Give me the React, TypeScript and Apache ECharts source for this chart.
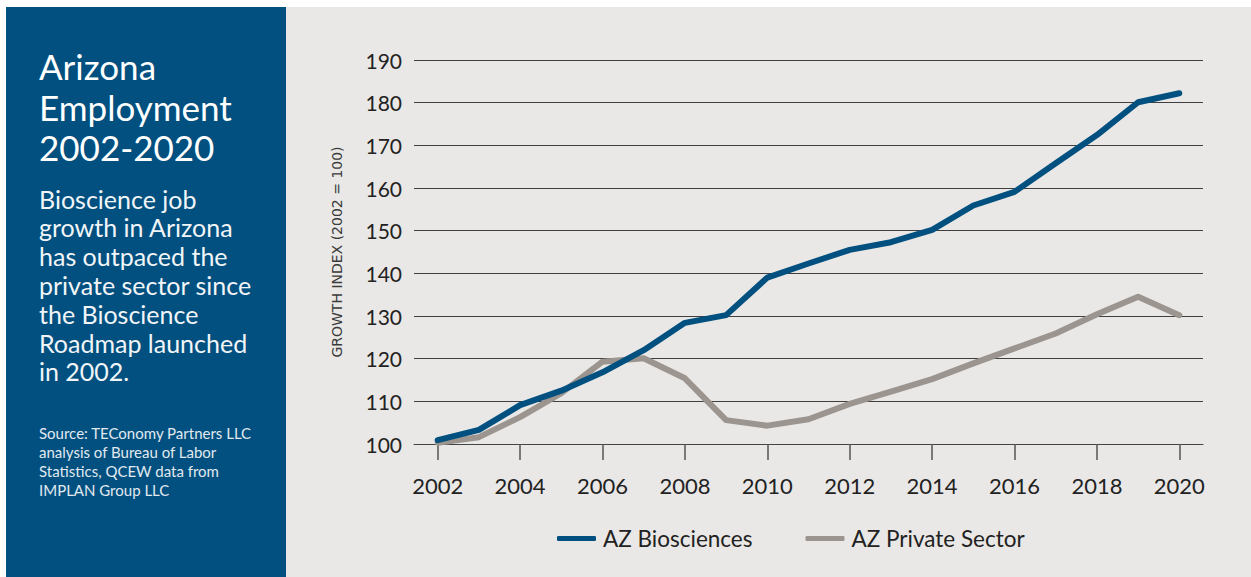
import React, { useEffect, useRef } from "react";
import * as echarts from "echarts";

const years = [2002, 2003, 2004, 2005, 2006, 2007, 2008, 2009, 2010, 2011, 2012, 2013, 2014, 2015, 2016, 2017, 2018, 2019, 2020];
const bioscience = [100.9, 103.3, 109.1, 112.5, 116.8, 122.0, 128.4, 130.2, 139.0, 142.3, 145.5, 147.3, 150.2, 155.9, 159.1, 165.8, 172.4, 180.1, 182.2];
const privateSector = [100.3, 101.6, 106.3, 111.9, 119.3, 120.1, 115.4, 105.6, 104.3, 105.8, 109.4, 112.3, 115.2, 118.9, 122.4, 125.9, 130.4, 134.5, 130.2];
const xTickYears = [2002, 2004, 2006, 2008, 2010, 2012, 2014, 2016, 2018, 2020];
const seriesNames = ["AZ Biosciences", "AZ Private Sector"];
const titleLines = ["Arizona", "Employment", "2002-2020"];
const bodyLines = ["Bioscience job", "growth in Arizona", "has outpaced the", "private sector since", "the Bioscience", "Roadmap launched", "in 2002."];
const sourceLines = ["Source: TEConomy Partners LLC", "analysis of Bureau of Labor", "Statistics, QCEW data from", "IMPLAN Group LLC"];
const yAxisTitle = "GROWTH INDEX (2002 = 100)";

const BLUE = "#02507F";
const GRAY = "#9B948F";
const FONT = "Lato";

function lineTexts(lines: string[], firstCenter: number, step: number, fontSize: number, fill: string) {
  return lines.map((t, i) => ({
    type: "text",
    x: 39,
    y: firstCenter + i * step,
    style: { text: t, fill, fontSize, fontFamily: FONT, align: "left", verticalAlign: "middle" },
  }));
}

export default function App() {
  const ref = useRef<HTMLDivElement>(null);
  useEffect(() => {
    if (!ref.current) return;
    document.body.style.margin = "0";
    const chart = echarts.init(ref.current, undefined, { renderer: "svg" });
    chart.setOption({
      animation: false,
      backgroundColor: "#ffffff",
      textStyle: { fontFamily: FONT },
      graphic: [
        { type: "rect", shape: { x: 6, y: 7, width: 280, height: 570 }, style: { fill: "#01507F" }, z: -10 },
        { type: "rect", shape: { x: 286, y: 7, width: 965, height: 570 }, style: { fill: "#E9E8E6" }, z: -10 },
        ...lineTexts(titleLines, 66, 40.7, 35, "#ffffff"),
        ...lineTexts(bodyLines, 198.5, 28.8, 25, "#F2F5F8"),
        ...lineTexts(sourceLines, 432.5, 19.3, 15, "#E2E9F0"),
        {
          type: "text", x: 337, y: 252, rotation: Math.PI / 2,
          style: { text: yAxisTitle, fill: "#3a3a3a", fontSize: 14, fontFamily: "DejaVu Sans", align: "center", verticalAlign: "middle" },
        },
      ],
      grid: { left: 414, right: 48, top: 60, bottom: 133, containLabel: false },
      legend: {
        data: seriesNames,
        left: 552,
        top: 522,
        icon: "roundRect",
        itemWidth: 39,
        itemHeight: 5,
        itemGap: 53,
        textStyle: { fontSize: 22.5, color: "#222222", fontFamily: FONT, padding: [0, 0, 0, 2] },
      },
      xAxis: {
        type: "value",
        min: 2001.425,
        max: 2020.575,
        axisLine: { show: true, lineStyle: { color: "#444444", width: 1 } },
        axisTick: { show: true, length: 16, customValues: xTickYears, lineStyle: { color: "#555555", width: 1.5 } },
        axisLabel: { customValues: xTickYears, fontSize: 22, color: "#222222", margin: 30, fontFamily: FONT, formatter: (v: number) => String(v) },
        splitLine: { show: false },
      },
      yAxis: {
        type: "value",
        min: 100,
        max: 190,
        interval: 10,
        axisLine: { show: false },
        axisTick: { show: false },
        axisLabel: { fontSize: 21, color: "#222222", margin: 12, fontFamily: FONT },
        splitLine: { show: true, lineStyle: { color: "#3f3f3f", width: 1 } },
      },
      series: [
        {
          name: seriesNames[1],
          type: "line",
          data: years.map((y, i) => [y, privateSector[i]]),
          symbol: "none",
          color: GRAY,
          lineStyle: { color: GRAY, width: 6, cap: "round", join: "round" },
          z: 2,
        },
        {
          name: seriesNames[0],
          type: "line",
          data: years.map((y, i) => [y, bioscience[i]]),
          symbol: "none",
          color: BLUE,
          lineStyle: { color: BLUE, width: 6, cap: "round", join: "round" },
          z: 3,
        },
      ],
    });
    return () => chart.dispose();
  }, []);
  return <div ref={ref} style={{ position: "fixed", left: 0, top: 0, width: 1251, height: 577 }} />;
}
